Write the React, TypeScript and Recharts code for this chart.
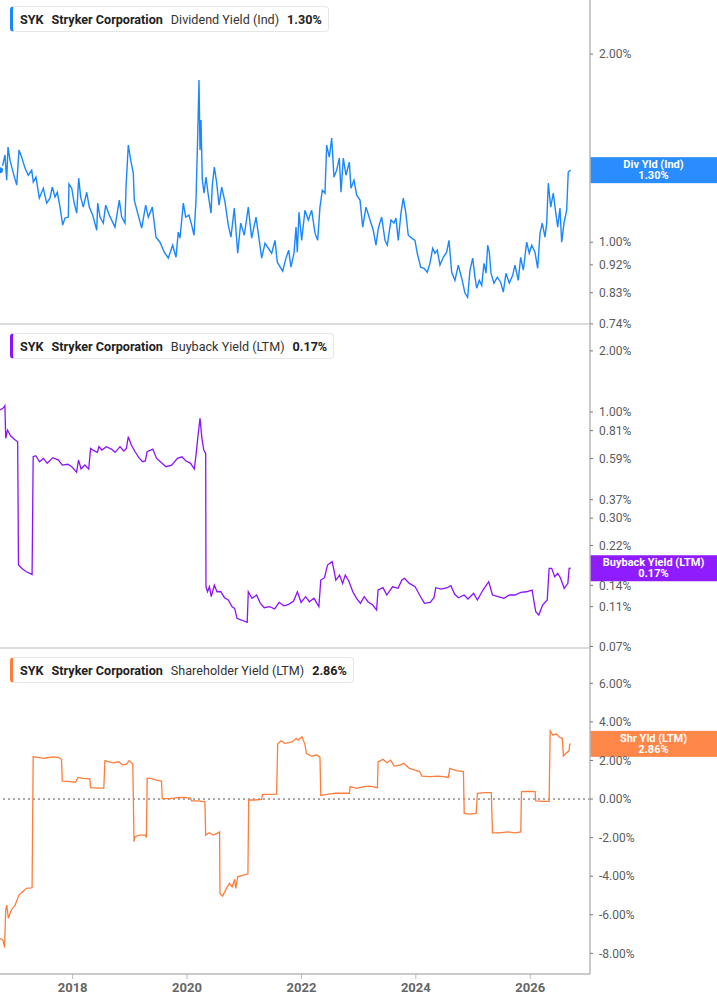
import React from 'react';
import { LineChart, Line, XAxis, YAxis, ReferenceLine } from 'recharts';

// ---------- data ----------
const X_DOMAIN = [2016.73, 2027.045];
const X_TICKS = [2018, 2020, 2022, 2024, 2026];

const DIV_TICKS = [2.0, 1.0, 0.92, 0.83, 0.74];
const DIV_DOMAIN = [0.7398, 2.441];
const BUY_TICKS = [2.0, 1.0, 0.81, 0.59, 0.37, 0.3, 0.22, 0.14, 0.11, 0.07];
const BUY_DOMAIN = [0.0688, 2.714];
const SHR_TICKS = [6, 4, 2, 0, -2, -4, -6, -8];
const SHR_DOMAIN = [-9.07, 7.83];

const divDates = [2016.730,2016.777,2016.817,2016.847,2016.870,2016.905,2016.963,2017.022,2017.062,2017.109,
2017.167,2017.225,2017.284,2017.312,2017.359,2017.417,2017.487,2017.546,2017.604,2017.644,
2017.692,2017.732,2017.779,2017.826,2017.866,2017.924,2017.936,2017.984,2018.024,2018.071,
2018.106,2018.141,2018.186,2018.246,2018.291,2018.351,2018.421,2018.438,2018.478,2018.536,
2018.578,2018.641,2018.740,2018.816,2018.858,2018.915,2018.933,2018.973,2019.015,2019.060,
2019.078,2019.137,2019.207,2019.277,2019.323,2019.393,2019.457,2019.527,2019.602,2019.672,
2019.749,2019.807,2019.847,2019.877,2019.935,2019.976,2020.034,2020.081,2020.122,2020.157,
2020.186,2020.209,2020.227,2020.244,2020.267,2020.297,2020.331,2020.372,2020.419,2020.442,
2020.477,2020.519,2020.559,2020.606,2020.664,2020.721,2020.768,2020.826,2020.886,2020.938,
2021.001,2021.071,2021.130,2021.206,2021.263,2021.305,2021.363,2021.421,2021.480,2021.538,
2021.578,2021.672,2021.730,2021.777,2021.817,2021.870,2021.905,2021.928,2021.957,2022.004,
2022.062,2022.120,2022.179,2022.237,2022.284,2022.324,2022.365,2022.412,2022.441,2022.487,
2022.529,2022.569,2022.616,2022.662,2022.692,2022.732,2022.779,2022.837,2022.866,2022.919,
2022.966,2023.024,2023.071,2023.129,2023.199,2023.256,2023.303,2023.344,2023.403,2023.461,
2023.501,2023.566,2023.618,2023.653,2023.693,2023.740,2023.781,2023.823,2023.868,2023.927,
2023.985,2024.025,2024.085,2024.143,2024.200,2024.247,2024.295,2024.335,2024.375,2024.422,
2024.480,2024.539,2024.580,2024.627,2024.684,2024.742,2024.802,2024.859,2024.906,2024.947,
2024.994,2025.034,2025.064,2025.109,2025.151,2025.192,2025.227,2025.256,2025.284,2025.314,
2025.366,2025.424,2025.483,2025.529,2025.576,2025.634,2025.693,2025.733,2025.791,2025.833,
2025.879,2025.938,2025.983,2026.026,2026.083,2026.130,2026.171,2026.211,2026.258,2026.288,
2026.316,2026.358,2026.403,2026.445,2026.480,2026.520,2026.550,2026.590,2026.637,2026.665,2026.707];

const divValues = [1.304,1.328,1.379,1.257,1.420,1.353,1.290,1.234,1.404,1.368,
1.314,1.280,1.304,1.248,1.271,1.176,1.220,1.155,1.176,1.225,
1.181,1.202,1.138,1.065,1.093,1.097,1.239,1.220,1.159,1.113,
1.266,1.181,1.138,1.202,1.138,1.105,1.045,1.155,1.097,1.073,
1.146,1.105,1.057,1.168,1.097,1.073,1.225,1.430,1.353,1.290,
1.168,1.113,1.053,1.146,1.097,1.138,1.019,1.000,0.964,0.943,
0.989,0.946,1.038,1.015,1.155,1.097,1.105,1.065,1.026,1.168,
1.474,1.818,1.404,1.569,1.257,1.198,1.271,1.189,1.113,1.234,
1.319,1.243,1.146,1.225,1.159,1.065,1.019,1.134,0.960,1.073,
1.026,1.138,1.015,1.097,1.007,0.943,0.996,0.978,0.960,1.007,
0.929,0.899,0.943,0.971,0.912,0.960,1.057,0.964,1.117,1.007,
1.125,1.085,1.125,1.034,1.007,1.138,1.211,1.198,1.430,1.368,
1.468,1.271,1.304,1.363,1.202,1.363,1.280,1.343,1.220,1.257,
1.189,1.168,1.057,1.138,1.085,1.045,0.989,1.053,1.097,1.007,
0.989,1.085,1.073,1.093,1.007,1.113,1.176,1.117,1.026,1.015,
1.007,0.960,0.912,0.908,0.895,0.925,0.978,0.960,0.971,0.919,
0.946,0.964,1.007,0.895,0.869,0.919,0.876,0.829,0.816,0.902,
0.943,0.879,0.844,0.869,0.853,0.925,0.892,0.989,0.964,0.892,
0.860,0.879,0.863,0.832,0.892,0.860,0.885,0.919,0.869,0.946,
0.902,1.000,0.960,0.989,0.964,0.908,1.034,1.073,1.019,1.073,
1.243,1.138,1.198,1.117,1.057,1.134,1.000,1.073,1.125,1.295,1.304];

const buybackSeries = [
[2016.730,1.023],[2016.782,1.043],[2016.816,1.074],[2016.830,0.742],[2016.861,0.815],[2016.915,0.764],[2016.980,0.734],[2017.039,0.714],[2017.053,0.1763],[2017.125,0.1685],
[2017.192,0.1634],[2017.291,0.1586],[2017.310,0.602],[2017.356,0.609],[2017.422,0.569],[2017.489,0.591],[2017.555,0.559],[2017.653,0.596],[2017.753,0.580],[2017.819,0.548],
[2017.917,0.553],[2017.984,0.538],[2018.069,0.505],[2018.102,0.580],[2018.148,0.524],[2018.214,0.548],[2018.281,0.524],[2018.314,0.662],[2018.379,0.643],[2018.433,0.633],
[2018.459,0.675],[2018.511,0.650],[2018.590,0.675],[2018.676,0.657],[2018.742,0.633],[2018.828,0.675],[2018.894,0.643],[2018.940,0.662],[2018.973,0.756],[2019.025,0.688],
[2019.092,0.637],[2019.158,0.596],[2019.223,0.569],[2019.270,0.574],[2019.303,0.637],[2019.401,0.657],[2019.468,0.591],[2019.534,0.569],[2019.632,0.538],[2019.732,0.548],
[2019.831,0.591],[2019.910,0.602],[2019.982,0.574],[2020.062,0.559],[2020.127,0.524],[2020.160,0.626],[2020.193,0.770],[2020.227,0.931],[2020.260,0.742],[2020.293,0.650],
[2020.326,0.626],[2020.331,0.1378],[2020.358,0.1302],[2020.391,0.1378],[2020.424,0.1231],[2020.477,0.1405],[2020.524,0.1302],[2020.590,0.1302],[2020.655,0.1217],[2020.721,0.1186],
[2020.788,0.1099],[2020.833,0.1079],[2020.873,0.0963],[2020.952,0.0945],[2021.052,0.0920],[2021.071,0.1302],[2021.137,0.1209],[2021.216,0.1255],[2021.282,0.1142],[2021.349,0.1086],
[2021.447,0.1099],[2021.532,0.1071],[2021.611,0.1155],[2021.692,0.1111],[2021.777,0.1129],[2021.863,0.1172],[2021.929,0.1302],[2021.994,0.1155],[2022.074,0.1231],[2022.139,0.1163],
[2022.219,0.1209],[2022.305,0.1099],[2022.338,0.1487],[2022.403,0.1527],[2022.456,0.1763],[2022.536,0.1831],[2022.569,0.1666],[2022.601,0.1487],[2022.667,0.1574],[2022.720,0.1432],
[2022.767,0.1574],[2022.833,0.1459],[2022.898,0.1302],[2022.964,0.1209],[2023.031,0.1142],[2023.097,0.1231],[2023.162,0.1163],[2023.248,0.1120],[2023.314,0.1058],[2023.340,0.1328],
[2023.426,0.1363],[2023.492,0.1255],[2023.592,0.1378],[2023.690,0.1354],[2023.756,0.1487],[2023.802,0.1516],[2023.887,0.1432],[2023.987,0.1378],[2024.066,0.1255],[2024.151,0.1142],
[2024.251,0.1155],[2024.317,0.1217],[2024.349,0.1363],[2024.448,0.1343],[2024.548,0.1363],[2024.613,0.1394],[2024.679,0.1265],[2024.746,0.1217],[2024.845,0.1255],[2024.910,0.1199],
[2025.010,0.1279],[2025.076,0.1186],[2025.174,0.1328],[2025.274,0.1459],[2025.340,0.1255],[2025.438,0.1231],[2025.538,0.1209],[2025.636,0.1255],[2025.735,0.1255],[2025.835,0.1293],
[2025.933,0.1302],[2026.033,0.1328],[2026.066,0.1163],[2026.097,0.1038],[2026.151,0.1000],[2026.216,0.1120],[2026.297,0.1186],[2026.330,0.1698],[2026.375,0.1698],[2026.428,0.1544],
[2026.480,0.1605],[2026.527,0.1527],[2026.594,0.1354],[2026.658,0.1432],[2026.680,0.1698],[2026.707,0.1700]
];

const shareholderSeries = [
[2016.730,-7.22],[2016.782,-7.31],[2016.809,-7.69],[2016.830,-5.75],[2016.849,-5.50],[2016.875,-6.18],[2016.928,-5.75],[2016.994,-5.50],[2017.060,-4.98],[2017.125,-4.81],
[2017.192,-4.63],[2017.291,-4.60],[2017.310,2.19],[2017.389,2.16],[2017.489,2.11],[2017.555,2.14],[2017.653,2.19],[2017.753,2.16],[2017.805,2.06],[2017.819,0.93],
[2017.917,0.92],[2018.050,0.87],[2018.095,1.12],[2018.181,1.07],[2018.300,1.05],[2018.314,0.59],[2018.445,0.57],[2018.545,0.57],[2018.564,1.99],[2018.643,1.93],
[2018.709,1.88],[2018.809,1.93],[2018.873,1.76],[2018.940,1.81],[2018.987,1.99],[2019.052,1.81],[2019.073,-2.21],[2019.092,-1.95],[2019.171,-1.87],[2019.270,-1.87],
[2019.289,-1.99],[2019.303,1.07],[2019.368,1.07],[2019.468,0.98],[2019.553,0.93],[2019.567,0.02],[2019.699,0.02],[2019.831,0.07],[2019.963,0.09],[2020.062,0.04],
[2020.081,-0.09],[2020.193,-0.10],[2020.312,-0.14],[2020.326,-1.87],[2020.391,-1.75],[2020.457,-1.87],[2020.524,-1.78],[2020.569,-1.70],[2020.576,-4.89],[2020.622,-5.03],
[2020.688,-4.63],[2020.741,-4.37],[2020.788,-4.55],[2020.833,-4.16],[2020.852,-4.63],[2020.886,-4.03],[2020.986,-3.94],[2021.064,-3.89],[2021.078,-0.05],[2021.183,-0.05],
[2021.302,-0.02],[2021.321,0.24],[2021.447,0.24],[2021.566,0.26],[2021.585,2.85],[2021.644,3.02],[2021.711,2.89],[2021.777,2.92],[2021.844,2.97],[2021.908,3.15],
[2021.941,3.06],[2022.008,3.23],[2022.060,2.85],[2022.087,2.37],[2022.172,2.23],[2022.272,2.28],[2022.324,2.16],[2022.338,0.19],[2022.470,0.26],[2022.601,0.30],
[2022.734,0.30],[2022.838,0.30],[2022.852,0.64],[2022.964,0.55],[2023.097,0.64],[2023.195,0.67],[2023.328,0.59],[2023.340,1.93],[2023.426,2.06],[2023.492,1.88],
[2023.559,2.02],[2023.623,1.71],[2023.723,1.76],[2023.790,1.85],[2023.887,1.59],[2023.987,1.50],[2024.066,1.42],[2024.106,1.19],[2024.251,1.16],[2024.382,1.19],
[2024.482,1.16],[2024.568,1.12],[2024.594,1.59],[2024.713,1.47],[2024.832,1.42],[2024.846,-0.74],[2024.943,-0.78],[2025.055,-0.74],[2025.076,0.30],[2025.207,0.33],
[2025.319,0.33],[2025.340,-1.75],[2025.471,-1.75],[2025.602,-1.70],[2025.735,-1.75],[2025.835,-1.70],[2025.847,0.38],[2025.966,0.40],[2026.085,0.38],[2026.097,-0.10],
[2026.230,-0.12],[2026.330,-0.12],[2026.349,3.54],[2026.394,3.32],[2026.461,3.37],[2026.513,3.20],[2026.560,3.15],[2026.580,2.23],[2026.625,2.37],[2026.679,2.50],
[2026.690,2.84],[2026.707,2.86]
];

const LEGENDS = [
  { ticker: 'SYK', name: 'Stryker Corporation', metric: 'Dividend Yield (Ind)', value: '1.30%' },
  { ticker: 'SYK', name: 'Stryker Corporation', metric: 'Buyback Yield (LTM)', value: '0.17%' },
  { ticker: 'SYK', name: 'Stryker Corporation', metric: 'Shareholder Yield (LTM)', value: '2.86%' },
];
const BADGE_NAMES = ['Div Yld (Ind)', 'Buyback Yield (LTM)', 'Shr Yld (LTM)'];
const COLORS = ['#1a86ff', '#8c12fe', '#ff7d3b'];
const BADGE_COLORS = ['#2a8dff', '#8f1bff', '#ff8749'];

// ---------- layout ----------
const W = 717;
const AXIS_W = 127;
const FONT = 'Roboto, "Noto Sans", Arial, sans-serif';
const AXIS_COLOR = '#b8b8b8';

const divData = divDates.map((t, i) => ({ t, v: divValues[i] }));
const buyData = buybackSeries.map(([t, v]) => ({ t, v }));
const shrData = shareholderSeries.map(([t, v]) => ({ t, v }));

const fmtPct = (v: number) => `${v.toFixed(2)}%`;

function Badge(props: any) {
  const { viewBox, color, title, value } = props;
  if (!viewBox) return null;
  const left = viewBox.x + viewBox.width;
  const cy = viewBox.y;
  const cx = left + AXIS_W / 2;
  return (
    <g>
      <rect x={left} y={cy - 13} width={AXIS_W} height={26} fill={color} />
      <text x={cx} y={cy - 2} textAnchor="middle" fill="#fff" fontSize={11} fontWeight={700}>{title}</text>
      <text x={cx} y={cy + 9} textAnchor="middle" fill="#fff" fontSize={11} fontWeight={700}>{value}</text>
    </g>
  );
}

function LegendBox({ idx }: { idx: number }) {
  const l = LEGENDS[idx];
  return (
    <div
      style={{
        position: 'absolute',
        left: 10,
        top: idx === 0 ? 6 : 9,
        height: 26,
        boxSizing: 'border-box',
        display: 'flex',
        alignItems: 'center',
        background: '#fff',
        border: '1px solid #e6e6e6',
        borderLeft: `3px solid ${COLORS[idx]}`,
        borderRadius: 4,
        paddingLeft: 7,
        paddingRight: 6,
        fontSize: 12.6,
        color: '#222',
        whiteSpace: 'nowrap',
        fontFamily: FONT,
      }}
    >
      <span style={{ fontWeight: 700, marginRight: 8 }}>{l.ticker}</span>
      <span style={{ fontWeight: 700, marginRight: 8 }}>{l.name}</span>
      <span style={{ fontWeight: 400, marginRight: 8, color: '#333' }}>{l.metric}</span>
      <span style={{ fontWeight: 700 }}>{l.value}</span>
    </div>
  );
}

type PanelProps = {
  idx: number;
  data: { t: number; v: number }[];
  height: number;
  domain: number[];
  ticks: number[];
  log: boolean;
  showX: boolean;
  zeroLine?: boolean;
};

function Panel({ idx, data, height, domain, ticks, log, showX, zeroLine }: PanelProps) {
  const last = data[data.length - 1];
  return (
    <div style={{ position: 'relative', width: W, height }}>
      <LineChart width={W} height={height} data={data} margin={{ top: 0, right: 0, bottom: 0, left: 0 }}>
        <XAxis
          dataKey="t"
          type="number"
          domain={X_DOMAIN}
          ticks={X_TICKS}
          allowDataOverflow
          hide={!showX}
          height={31}
          axisLine={{ stroke: AXIS_COLOR, strokeWidth: 1.5 }}
          tickLine={{ stroke: AXIS_COLOR }}
          tickSize={5}
          tickMargin={4}
          tick={{ fill: '#666', fontSize: 13, fontWeight: 700 }}
          tickFormatter={(v: number) => String(Math.round(v))}
        />
        <YAxis
          orientation="right"
          width={AXIS_W}
          scale={log ? 'log' : 'linear'}
          domain={domain}
          ticks={ticks}
          allowDataOverflow
          interval={0}
          axisLine={{ stroke: AXIS_COLOR, strokeWidth: 1.5 }}
          tickLine={{ stroke: '#777' }}
          tickSize={3}
          tickMargin={6}
          tick={{ fill: '#5c5c5c', fontSize: 12, textAnchor: 'start' }}
          tickFormatter={fmtPct}
        />
        {!showX && (
          <ReferenceLine y={domain[0]} stroke={AXIS_COLOR} strokeWidth={1} ifOverflow="visible" />
        )}
        {zeroLine && <ReferenceLine y={0} stroke="#555" strokeDasharray="2 3" strokeWidth={1} />}
        <Line
          type="linear"
          dataKey="v"
          stroke={COLORS[idx]}
          strokeWidth={idx === 0 ? 1.4 : 1.3}
          dot={false}
          isAnimationActive={false}
        />
        <ReferenceLine
          y={last.v}
          stroke="none"
          ifOverflow="visible"
          label={<Badge color={BADGE_COLORS[idx]} title={BADGE_NAMES[idx]} value={fmtPct(last.v)} />}
        />
      </LineChart>
      <LegendBox idx={idx} />
    </div>
  );
}

export default function App() {
  return (
    <div
      style={{
        position: 'absolute',
        left: 0,
        top: 0,
        width: W,
        height: 1005,
        background: '#fff',
        fontFamily: FONT,
      }}
    >
      <style>{`.recharts-surface{overflow:visible}.recharts-wrapper{overflow:visible}`}</style>
      <Panel idx={0} data={divData} height={324} domain={DIV_DOMAIN} ticks={DIV_TICKS} log showX={false} />
      <Panel idx={1} data={buyData} height={324} domain={BUY_DOMAIN} ticks={BUY_TICKS} log showX={false} />
      <Panel idx={2} data={shrData} height={357} domain={SHR_DOMAIN} ticks={SHR_TICKS} log={false} showX zeroLine />
    </div>
  );
}
